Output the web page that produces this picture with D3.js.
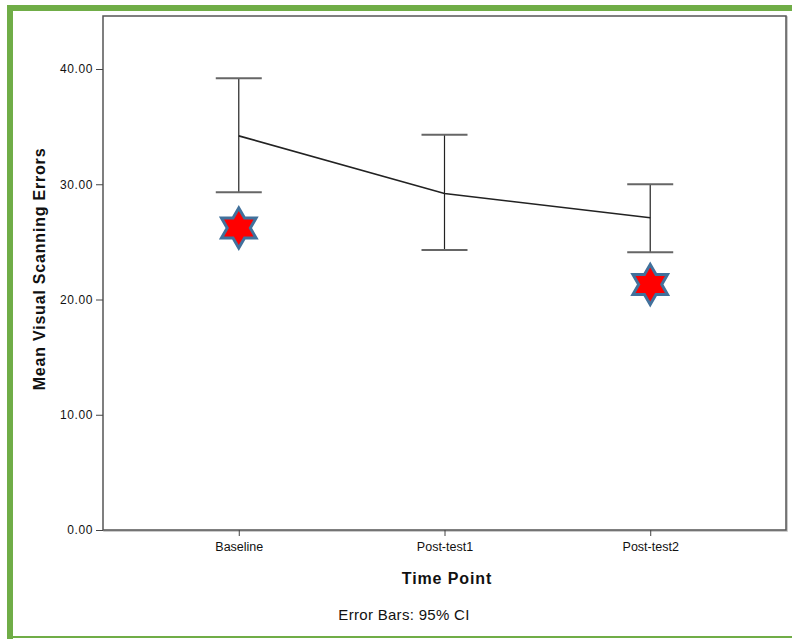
<!DOCTYPE html>
<html>
<head>
<meta charset="utf-8">
<script src="https://cdn.jsdelivr.net/npm/d3@7"></script>
<style>
  body { margin: 0; background: #fff; }
  text { font-family: Arial, "Liberation Sans", sans-serif; fill: #111; }
</style>
</head>
<body>
<svg id="chart" width="792" height="639"></svg>
<script>
// data
var timePoints = ["Baseline", "Post-test1", "Post-test2"];
var meanErrors = [34.2, 29.2, 27.1];
var ciLower = [29.3, 24.3, 24.1];
var ciUpper = [39.2, 34.3, 30.0];
// red star markers
var starPoints = ["Baseline", "Post-test2"];
var starValues = [26.2, 21.3];
var yTicks = [0, 10, 20, 30, 40];

var svg = d3.select("#chart");

// green frame around the picture
svg.append("rect").attr("x", 7).attr("y", 5).attr("width", 785).attr("height", 6).attr("fill", "#70ad47");
svg.append("rect").attr("x", 7).attr("y", 5).attr("width", 6).attr("height", 634).attr("fill", "#70ad47");
svg.append("rect").attr("x", 7).attr("y", 636).attr("width", 785).attr("height", 2).attr("fill", "#70ad47");

var plot = { left: 103, right: 786, top: 16, bottom: 530 };

var x = d3.scalePoint()
    .domain(timePoints)
    .range([plot.left, plot.right])
    .padding(0.66);

var y = d3.scaleLinear()
    .domain([0, 44.6])
    .range([plot.bottom, plot.top]);

// plot frame (with a soft shadow line)
svg.append("rect")
    .attr("x", plot.left + 1).attr("y", plot.top + 1)
    .attr("width", plot.right - plot.left).attr("height", plot.bottom - plot.top)
    .attr("fill", "none").attr("stroke", "#bbb").attr("stroke-width", 1.5);
svg.append("rect")
    .attr("x", plot.left).attr("y", plot.top)
    .attr("width", plot.right - plot.left).attr("height", plot.bottom - plot.top)
    .attr("fill", "#fff").attr("stroke", "#555").attr("stroke-width", 1.5);

// y axis
var yAxis = svg.append("g")
    .attr("transform", "translate(" + plot.left + ",0)")
    .call(d3.axisLeft(y).tickValues(yTicks).tickSize(7).tickPadding(3).tickFormat(d3.format(".2f")));
yAxis.select(".domain").remove();
yAxis.selectAll("line").attr("stroke", "#444");
yAxis.selectAll("text").style("font-size", "12px").style("letter-spacing", "0.6px")
    .style("font-family", "Arial, 'Liberation Sans', sans-serif").attr("fill", "#222");

// x axis
var xAxis = svg.append("g")
    .attr("transform", "translate(0," + plot.bottom + ")")
    .call(d3.axisBottom(x).tickSize(6).tickPadding(6));
xAxis.select(".domain").remove();
xAxis.selectAll("line").attr("stroke", "#444");
xAxis.selectAll("text").style("font-size", "12.5px")
    .style("font-family", "Arial, 'Liberation Sans', sans-serif").attr("fill", "#222");

// axis titles
svg.append("text")
    .attr("transform", "translate(45,269) rotate(-90)")
    .attr("text-anchor", "middle")
    .style("font-size", "16px").style("font-weight", "bold").style("letter-spacing", "0.8px")
    .text("Mean Visual Scanning Errors");

svg.append("text")
    .attr("x", 447).attr("y", 584)
    .attr("text-anchor", "middle")
    .style("font-size", "16px").style("font-weight", "bold").style("letter-spacing", "0.9px")
    .text("Time Point");

svg.append("text")
    .attr("x", 404).attr("y", 620)
    .attr("text-anchor", "middle")
    .style("font-size", "15px").style("letter-spacing", "0.3px")
    .text("Error Bars: 95% CI");

// error bars
var bars = svg.append("g").selectAll("g")
    .data(timePoints)
    .enter().append("g");

bars.append("line")
    .attr("x1", function(d) { return x(d); })
    .attr("x2", function(d) { return x(d); })
    .attr("y1", function(d, i) { return y(ciLower[i]); })
    .attr("y2", function(d, i) { return y(ciUpper[i]); })
    .attr("stroke", "#222").attr("stroke-width", 1.2);

[ciLower, ciUpper].forEach(function(arr) {
    bars.append("line")
        .attr("x1", function(d) { return x(d) - 23; })
        .attr("x2", function(d) { return x(d) + 23; })
        .attr("y1", function(d, i) { return y(arr[i]); })
        .attr("y2", function(d, i) { return y(arr[i]); })
        .attr("stroke", "#666").attr("stroke-width", 2);
});

// mean line
var line = d3.line()
    .x(function(d) { return x(d); })
    .y(function(d, i) { return y(meanErrors[i]); });

svg.append("path")
    .datum(timePoints)
    .attr("d", line)
    .attr("fill", "none")
    .attr("stroke", "#222")
    .attr("stroke-width", 1.6);

// six pointed stars
function hexagram(r) {
    var pts = [];
    for (var k = 0; k < 12; k++) {
        var a = -Math.PI / 2 + k * Math.PI / 6;
        var rr = (k % 2 === 0) ? r : r / Math.sqrt(3);
        pts.push([rr * Math.cos(a), rr * Math.sin(a)]);
    }
    return "M" + pts.map(function(p) { return p[0].toFixed(2) + "," + p[1].toFixed(2); }).join("L") + "Z";
}

svg.append("g").selectAll("path")
    .data(starPoints)
    .enter().append("path")
    .attr("transform", function(d, i) { return "translate(" + x(d) + "," + y(starValues[i]) + ")"; })
    .attr("d", hexagram(20))
    .attr("fill", "#ff0000")
    .attr("stroke", "#41719c")
    .attr("stroke-width", 3)
    .attr("stroke-linejoin", "miter");
</script>
</body>
</html>
